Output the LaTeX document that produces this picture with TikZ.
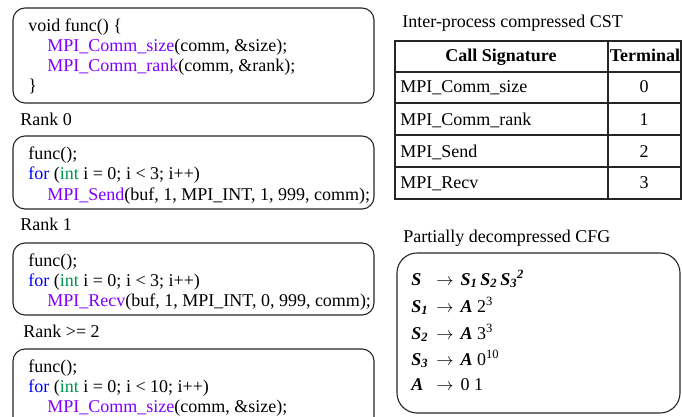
\documentclass[tikz,border=0pt]{standalone}
\usepackage{fontspec}
\setmainfont{Liberation Serif}
\usepackage{tikz}
\tikzset{every picture/.style={line width=0.75pt}}
\definecolor{mpipurple}{RGB}{128,0,255}
\definecolor{kwblue}{RGB}{0,0,255}
\definecolor{typegreen}{RGB}{0,150,80}
\tikzset{
  codebox/.style={draw=black!85, line width=1.1pt, rounded corners=12pt},
  cfgbox/.style={draw=black!85, line width=1.1pt, rounded corners=20pt},
  codeline/.style={anchor=base west, inner sep=0pt, font=\fontsize{18}{20}\selectfont},
  caption/.style={codeline},
  cell/.style={anchor=base, inner sep=0pt, font=\fontsize{18}{20}\selectfont},
  rowcell/.style={codeline},
  rule/.style={line width=1.1pt, black!85},
  cfgline/.style={anchor=base west, inner sep=0pt, font=\fontsize{18}{22}\selectfont}
}
\newcommand{\mpi}[1]{\textcolor{mpipurple}{#1}}
\newcommand{\kw}[1]{\textcolor{kwblue}{#1}}
\newcommand{\ty}[1]{\textcolor{typegreen}{#1}}
\newcommand{\nt}[1]{\textbf{\textit{#1}}}
\newcommand{\lhs}[1]{\makebox[25pt][l]{#1}$\rightarrow$\hspace{7pt}}

\begin{document}
\begin{tikzpicture}[x=1pt, y=-1pt]

  \useasboundingbox (0,0) rectangle (682,417);
  \clip (0,0) rectangle (682,417);

  % function body
  \draw[codebox] (13,8) rectangle (374,103);
  \node[codeline] (f1) at (28,32) {void func() \{};
  \node[codeline] (f2) at (47,52) {\mpi{MPI\_Comm\_size}(comm, \&size);};
  \node[codeline] (f3) at (47,72) {\mpi{MPI\_Comm\_rank}(comm, \&rank);};
  \node[codeline] (f4) at (28,92) {\}};

  % rank 0
  \node[caption] (rank0) at (20,125) {Rank 0};
  \draw[codebox] (13,136) rectangle (374,209);
  \node[codeline] (a1) at (28,159) {func();};
  \node[codeline] (a2) at (28,179) {\kw{for} (\ty{int} i = 0; i < 3; i++)};
  \node[codeline] (a3) at (47,200) {\mpi{MPI\_Send}(buf, 1, MPI\_INT, 1, 999, comm);};

  % rank 1
  \node[caption] (rank1) at (20,230) {Rank 1};
  \draw[codebox] (13,243) rectangle (374,315);
  \node[codeline] (b1) at (28,266) {func();};
  \node[codeline] (b2) at (28,286) {\kw{for} (\ty{int} i = 0; i < 3; i++)};
  \node[codeline] (b3) at (47,306) {\mpi{MPI\_Recv}(buf, 1, MPI\_INT, 0, 999, comm);};

  % rank >= 2
  \node[caption] (rank2) at (23,337) {Rank >= 2};
  \draw[codebox] (13,349) rectangle (374,440);
  \node[codeline] (c1) at (28,372) {func();};
  \node[codeline] (c2) at (28,392) {\kw{for} (\ty{int} i = 0; i < 10; i++)};
  \node[codeline] (c3) at (47,412) {\mpi{MPI\_Comm\_size}(comm, \&size);};

  % call signature table
  \node[caption] (cst) at (402,28) {Inter-process compressed CST};
  \draw[rule] (395,41) rectangle (681,199);
  \draw[rule] (608,41) -- (608,199);
  \foreach \y in {72,103,135,167}
    \draw[rule] (395,\y) -- (681,\y);
  \node[cell] (hsig) at (501,62) {\textbf{Call Signature}};
  \node[cell] (hterm) at (645,62) {\textbf{Terminal}};
  \foreach \name/\t/\y in {MPI\_Comm\_size/0/93, MPI\_Comm\_rank/1/125, MPI\_Send/2/157, MPI\_Recv/3/188}{
    \node[rowcell] (sig\t) at (400,\y) {\name};
    \node[cell] (term\t) at (644,\y) {\t};
  }

  % grammar
  \node[caption] (cfg) at (403,242) {Partially decompressed CFG};
  \draw[cfgbox] (397,253) rectangle (680,413);
  \node[cfgline] (g0) at (411,285) {\lhs{\nt{S}}\nt{S\textsubscript{1}\,S\textsubscript{2}\,S\textsubscript{3}\textsuperscript{2}}};
  \node[cfgline] (g1) at (411,312) {\lhs{\nt{S\textsubscript{1}}}\nt{A} 2\textsuperscript{3}};
  \node[cfgline] (g2) at (411,339) {\lhs{\nt{S\textsubscript{2}}}\nt{A} 3\textsuperscript{3}};
  \node[cfgline] (g3) at (411,365) {\lhs{\nt{S\textsubscript{3}}}\nt{A} 0\textsuperscript{10}};
  \node[cfgline] (g4) at (411,390) {\lhs{\nt{A}}0 1};

\end{tikzpicture}
\end{document}
